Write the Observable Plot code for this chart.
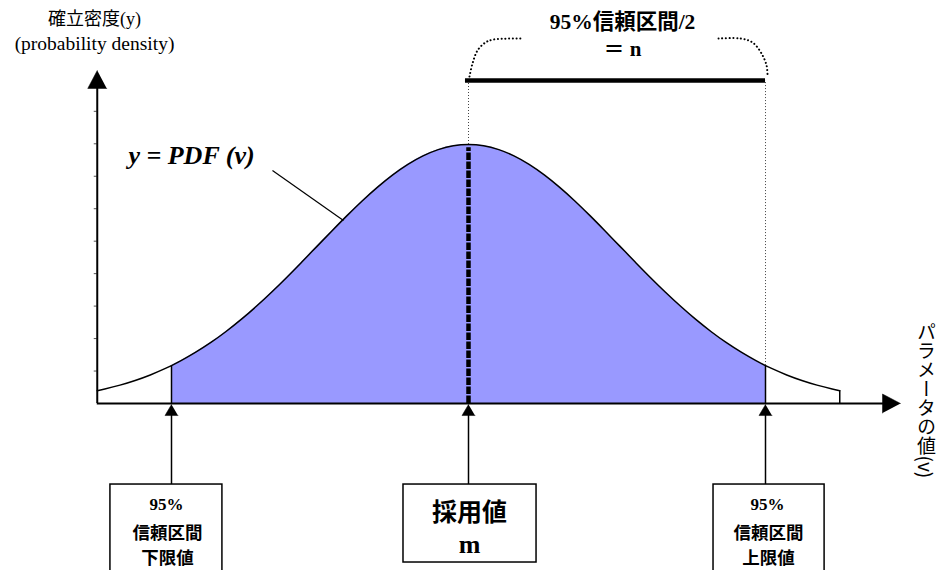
<!DOCTYPE html>
<html><head><meta charset="utf-8">
<script src="https://cdn.jsdelivr.net/npm/d3@7"></script>
<script src="https://cdn.jsdelivr.net/npm/@observablehq/plot@0.6"></script>
<style>html,body{margin:0;padding:0;background:#fff;overflow:hidden}</style>
</head><body><div id="chart"></div>
<script>
// Parameter value v (in units of sigma from the adopted value m)
const paramValues = [-2.45,-2.4,-2.3,-2.2,-2.1,-2.0,-1.96,-1.9,-1.8,-1.7,-1.6,-1.5,-1.4,-1.3,-1.2,-1.1,-1.0,-0.9,-0.8,-0.7,-0.6,-0.5,-0.4,-0.3,-0.2,-0.1,0,
  0.1,0.2,0.3,0.4,0.5,0.6,0.7,0.8,0.9,1.0,1.1,1.2,1.3,1.4,1.5,1.6,1.7,1.8,1.9,1.96,2.0,2.1,2.2,2.3,2.4,2.45];
// Probability density y = PDF(v)
const densityValues = [0.0198,0.0224,0.0283,0.0355,0.0440,0.0540,0.0584,0.0656,0.0790,0.0940,0.1109,0.1295,0.1497,0.1714,0.1942,0.2179,0.2420,0.2661,0.2897,0.3123,0.3332,0.3521,0.3683,0.3814,0.3910,0.3970,0.3989,
  0.3970,0.3910,0.3814,0.3683,0.3521,0.3332,0.3123,0.2897,0.2661,0.2420,0.2179,0.1942,0.1714,0.1497,0.1295,0.1109,0.0940,0.0790,0.0656,0.0584,0.0540,0.0440,0.0355,0.0283,0.0224,0.0198];
const adoptedValue = 0;          // m
const lowerBound = -1.96;        // 95% CI lower
const upperBound = 1.96;         // 95% CI upper
const yTickValues = [0.05,0.10,0.15,0.20,0.25,0.30,0.35,0.40,0.45];

// Text
const yTitle = "確立密度(y)";
const yTitle2 = "(probability density)";
const xTitle = "パラメータの値(v)";
const curveLabel = "y = PDF (v)";
const halfTitle1 = "95%信頼区間/2";
const halfTitle2 = "＝ n";
const lowerLabels = ["95%", "信頼区間", "下限値"];
const meanLabels = ["採用値", "m"];
const upperLabels = ["95%", "信頼区間", "上限値"];

const curve = paramValues.map((v, i) => ({v, y: densityValues[i]}));
const dens = v => curve.find(d => d.v === v).y;
const shaded = curve.filter(d => d.v >= lowerBound && d.v <= upperBound);

// layout helpers (pixels per data unit)
const PX = 151.5, PY = 649.3;
const FONT = '"Liberation Serif", "Noto Sans CJK JP", serif';
const CJK = '"Noto Sans CJK JP", sans-serif';
const axisV = paramValues[0];
const xArrowTip = 2.851, yArrowTip = 0.5129;
const bracketY = 0.4975;
const boxTop = -0.1248;

function triangle(id, x, y, dir, len, half) {
  if (dir === "up") return [
    {id, x, y}, {id, x: x - half / PX, y: y - len / PY}, {id, x: x + half / PX, y: y - len / PY}];
  return [{id, x, y}, {id, x: x - len / PX, y: y + half / PY}, {id, x: x - len / PX, y: y - half / PY}];
}
const heads = [
  ...triangle("ya", axisV, yArrowTip, "up", 18, 9.5),
  ...triangle("xa", xArrowTip, 0, "right", 18, 9.5),
  ...[lowerBound, adoptedValue, upperBound].flatMap((b, i) => triangle("b" + i, b, -0.0016, "up", 11, 6.5))
];
const boxes = [
  {x1: -2.363, x2: -1.624, y1: boxTop, y2: -0.28},
  {x1: -0.429, x2: 0.449, y1: boxTop, y2: -0.2449},
  {x1: 1.617, x2: 2.350, y1: boxTop, y2: -0.28}
];
const braceL = [[0.0066,0.5036],[0.0264,0.5237],[0.0594,0.5437],[0.1122,0.5560],[0.1650,0.5606],[0.3630,0.5621]];
const braceR = [[1.6502,0.5621],[1.7954,0.5621],[1.8746,0.5560],[1.9340,0.5390],[1.9670,0.5206],[1.9736,0.5052]];

function label(text, x, y, size, opts = {}) {
  return Plot.text([text], {frameAnchor: "top-left", dx: x, dy: y, fontSize: size, fontFamily: FONT,
    textAnchor: "middle", lineAnchor: "bottom", fill: "black", ...opts});
}
const boxCJK = {fontWeight: "bold", fontFamily: CJK, letterSpacing: 2};

const chart = Plot.plot({
  width: 939, height: 570, margin: 0,
  style: {background: "white", overflow: "hidden"},
  x: {domain: [lowerBound, upperBound], range: [171, 765], axis: null},
  y: {domain: [0, 0.3989], range: [403, 144], axis: null},
  marks: [
    Plot.areaY(shaded, {x: "v", y: "y", fill: "#9999ff", curve: "monotone-x"}),
    Plot.lineY(curve, {x: "v", y: "y", stroke: "black", strokeWidth: 1.5, curve: "monotone-x"}),
    Plot.ruleX(curve.filter(d => d.v === lowerBound || d.v === upperBound || d.v === paramValues[paramValues.length - 1]),
      {x: "v", y1: 0, y2: "y", stroke: "black", strokeWidth: 1.5}),
    // dotted guides up to the bracket
    Plot.ruleX([adoptedValue, upperBound], {x: d => d, y1: d => dens(d), y2: bracketY, stroke: "#444", strokeWidth: 1, strokeDasharray: "1,2"}),
    // thick dashed adopted value line
    Plot.ruleX([adoptedValue], {x: d => d, y1: 0, y2: dens(adoptedValue) - 0.005, stroke: "black", strokeWidth: 4.5, strokeDasharray: "7.5,1.5"}),
    // bracket
    Plot.ruleY([bracketY], {y: d => d, x1: -0.02, x2: upperBound, stroke: "black", strokeWidth: 4.5}),
    Plot.line(braceL, {x: d => d[0], y: d => d[1], curve: "catmull-rom", stroke: "black", strokeWidth: 2, strokeDasharray: "0.1,3.6", strokeLinecap: "round"}),
    Plot.line(braceR, {x: d => d[0], y: d => d[1], curve: "catmull-rom", stroke: "black", strokeWidth: 2, strokeDasharray: "0.1,3.6", strokeLinecap: "round"}),
    // axes
    Plot.ruleY(yTickValues, {y: d => d, x1: axisV, x2: axisV, insetLeft: -3, stroke: "#555", strokeWidth: 1}),
    Plot.ruleY([0], {x1: axisV, x2: xArrowTip - 17 / PX, stroke: "black", strokeWidth: 2}),
    Plot.ruleX([axisV], {x: d => d, y1: 0, y2: yArrowTip - 17 / PY, stroke: "black", strokeWidth: 2}),
    // pointer arrows from boxes
    Plot.ruleX([lowerBound, adoptedValue, upperBound], {x: d => d, y1: boxTop, y2: -0.016, stroke: "black", strokeWidth: 1.5}),
    Plot.line(heads, {x: "x", y: "y", z: "id", fill: "black", stroke: "black", strokeWidth: 0.5}),
    Plot.rect(boxes, {x1: "x1", x2: "x2", y1: "y1", y2: "y2", fill: "white", stroke: "black", strokeWidth: 1.5}),
    // leader line
    Plot.link([0], {x1: (272 - 468) / PX, y1: (403 - 170) / PY, x2: (343 - 468) / PX, y2: (403 - 220) / PY, stroke: "black", strokeWidth: 1.2}),
    // texts
    label(yTitle, 94, 24, 18, {letterSpacing: 1.5}),
    label(yTitle2, 94, 49, 19.5),
    label(curveLabel, 191, 163, 26, {fontWeight: "bold", fontStyle: "italic"}),
    label(halfTitle1, 622, 28, 21.5, {fontWeight: "bold"}),
    label(halfTitle2, 622, 55, 21, {fontWeight: "bold"}),
    label(lowerLabels[0], 166, 509, 17, {fontWeight: "bold"}),
    label(lowerLabels[1], 167, 538, 17.5, boxCJK),
    label(lowerLabels[2], 167, 563.5, 17.5, boxCJK),
    label(upperLabels[0], 767, 509, 17, {fontWeight: "bold"}),
    label(upperLabels[1], 768, 538, 17.5, boxCJK),
    label(upperLabels[2], 768, 563.5, 17.5, boxCJK),
    label(meanLabels[0], 469, 520, 25, {fontWeight: "bold", fontFamily: CJK}),
    label(meanLabels[1], 469, 552, 26, {fontWeight: "bold"}),
    label(xTitle, 926, 322, 19, {fontFamily: CJK, textAnchor: "start"})
  ]
});
document.getElementById("chart").appendChild(chart);
d3.select(chart).selectAll("text").filter(function() { return this.textContent === xTitle; })
  .style("writing-mode", "vertical-rl").attr("y", null).attr("text-anchor", "start");
</script>
</body></html>
